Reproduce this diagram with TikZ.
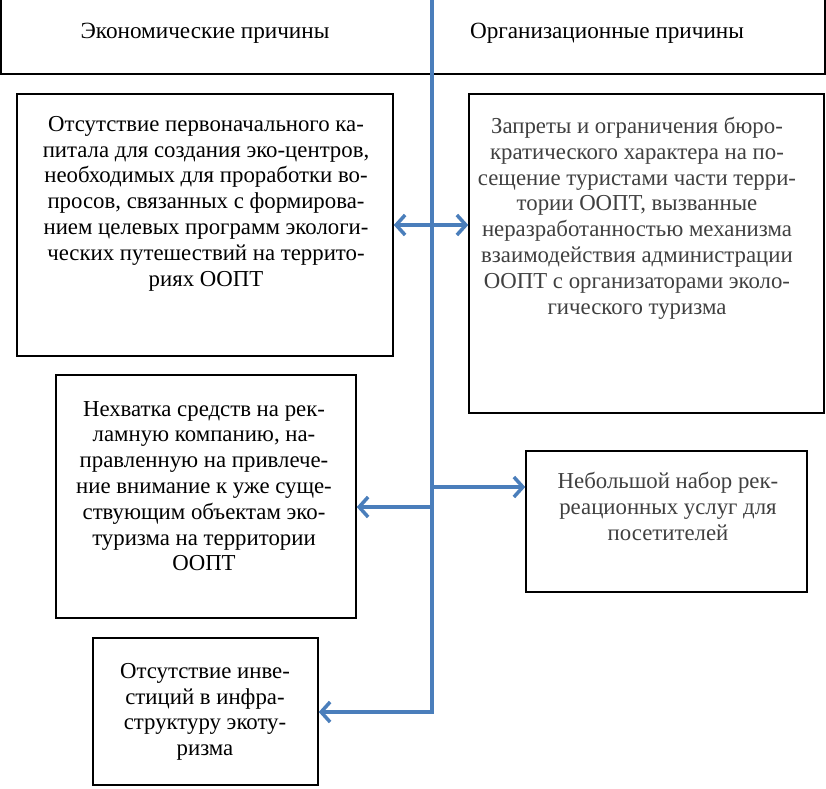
\documentclass[tikz,border=0pt]{standalone}
\usepackage{fontspec}
\setmainfont{Liberation Serif}
\newfontfamily\causefont{Liberation Serif}
\usetikzlibrary{arrows.meta}
\definecolor{linkblue}{RGB}{74,126,187}

\begin{document}
\begin{tikzpicture}[x=1pt, y=-1pt, every node/.style={font=\causefont\fontsize{22.8}{25.8}\selectfont}]
        \tikzstyle{box}=[draw=black, line width=1.5pt, shape=rectangle, inner sep=0pt]
        \tikzstyle{head text}=[anchor=base, inner sep=0pt, font=\causefont\fontsize{23.2}{26}\selectfont]
        \tikzstyle{cause text}=[align=center, inner sep=0pt, anchor=north]
        \tikzstyle{link}=[draw=linkblue, line width=3.5pt]
        \tikzstyle{arrow}=[link, -{Straight Barb[length=9pt, width=20pt]}]
        \tikzstyle{double arrow}=[link, {Straight Barb[length=9pt, width=20pt]}-{Straight Barb[length=9pt, width=20pt]}]
        \fill [white] (0,0) rectangle (826,788);
        \useasboundingbox (0,0) rectangle (826,788);

        % header
        \node [style=box, minimum width=824, minimum height=78] (0) at (413,35) {};
        \node [style=head text] (a) at (205,38) {Экономические причины};
        \node [style=head text] (b) at (607,38) {Организационные причины};

        % boxes
        \node [style=box, minimum width=376, minimum height=262] (1) at (205,225) {};
        \node [style=box, minimum width=355, minimum height=319] (2) at (646.5,253.5) {};
        \node [style=box, minimum width=300, minimum height=243] (3) at (206,496.5) {};
        \node [style=box, minimum width=281, minimum height=141] (4) at (666.5,521.5) {};
        \node [style=box, minimum width=225, minimum height=147] (5) at (205.5,711.5) {};

        \node [style=cause text] (1t) at (206,116) {Отсутствие первоначального ка-\\питала для создания эко-центров,\\необходимых для проработки во-\\просов, связанных с формирова-\\нием целевых программ экологи-\\ческих путешествий на террито-\\риях ООПТ};
        \node [style=cause text, text=black!75] (2t) at (637,117) {Запреты и ограничения бюро-\\кратического характера на по-\\сещение туристами части терри-\\тории ООПТ, вызванные\\неразработанностью механизма\\взаимодействия администрации\\ООПТ с организаторами эколо-\\гического туризма};
        \node [style=cause text] (3t) at (204,401) {Нехватка средств на рек-\\ламную компанию, на-\\правленную на привлече-\\ние внимание к уже суще-\\ствующим объектам эко-\\туризма на территории\\ООПТ};
        \node [style=cause text, text=black!75] (4t) at (668,472) {Небольшой набор рек-\\реационных услуг для\\посетителей};
        \node [style=cause text] (5t) at (205,663) {Отсутствие инве-\\стиций в инфра-\\структуру экоту-\\ризма};

        % connectors
        \coordinate (10) at (432,-2);
        \coordinate (11) at (432,712);
        \coordinate (12) at (432,487);
        \coordinate (13) at (432,507);
        \draw [style=arrow] (10) -- (11) -- (11 -| 5.east);
        \draw [style=arrow] (12) -- (12 -| 4.west);
        \draw [style=arrow] (13) -- (13 -| 3.east);
        \draw [style=double arrow] (1.east) -- (1.east -| 2.west);
    \end{tikzpicture}
\end{document}
